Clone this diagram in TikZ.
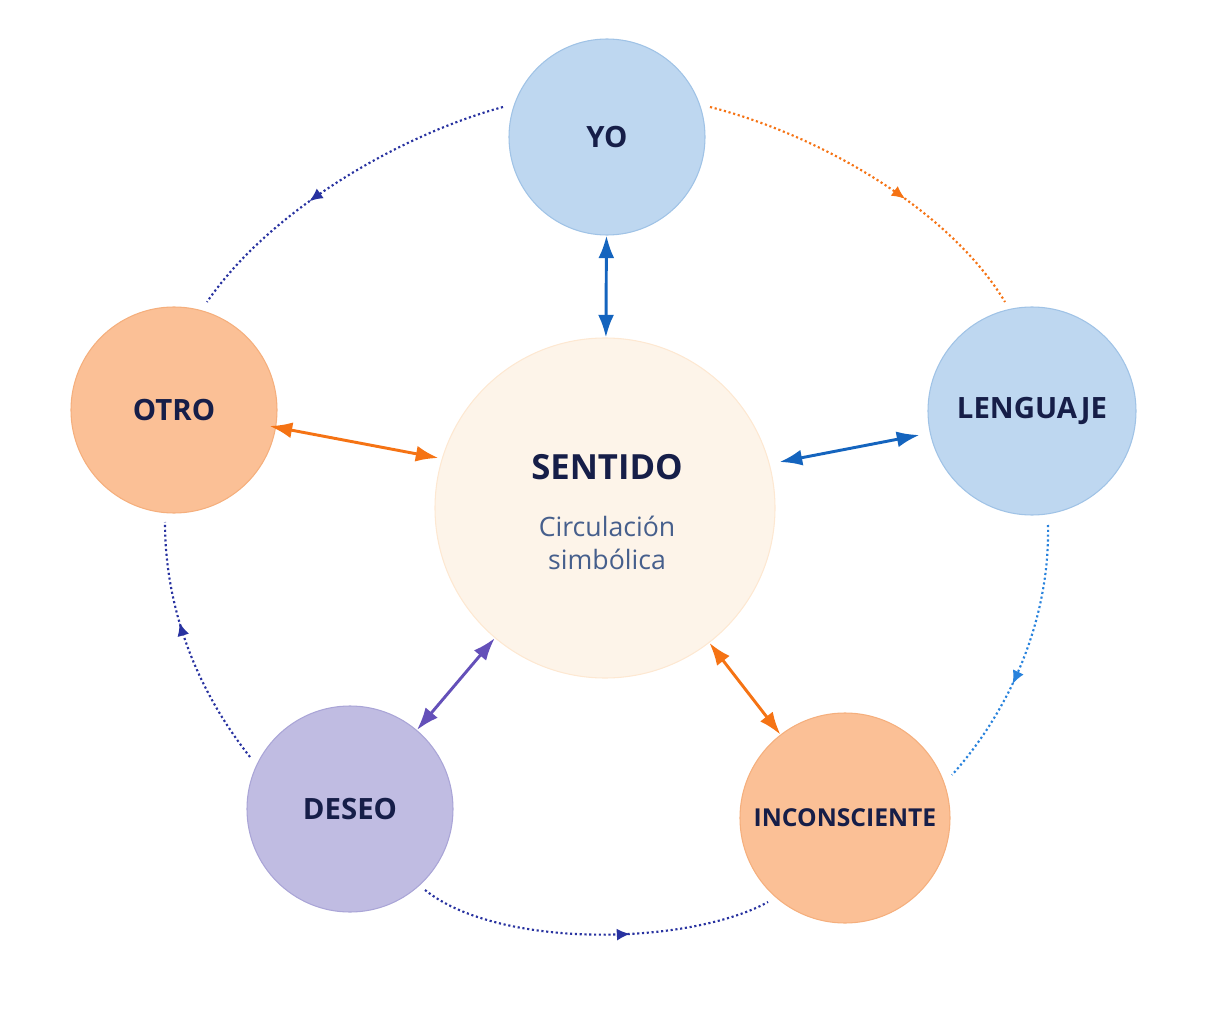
\documentclass[tikz,border=0pt]{standalone}
\usepackage{fontspec}
\setmainfont{Open Sans}
\usetikzlibrary{arrows.meta,decorations.markings}
\definecolor{navy}{RGB}{22,30,72}
\definecolor{bluefill}{RGB}{190,215,240}
\definecolor{bluedraw}{RGB}{160,195,230}
\definecolor{orangefill}{RGB}{251,192,150}
\definecolor{orangedraw}{RGB}{245,175,125}
\definecolor{purplefill}{RGB}{192,188,226}
\definecolor{purpledraw}{RGB}{170,165,215}
\definecolor{centerfill}{RGB}{253,244,233}
\definecolor{arrblue}{RGB}{20,100,190}
\definecolor{arrorange}{RGB}{245,115,20}
\definecolor{arrpurple}{RGB}{100,80,185}
\definecolor{dotblue}{RGB}{40,130,220}
\definecolor{dotnavy}{RGB}{40,50,160}
\definecolor{subtext}{RGB}{70,95,140}
\tikzset{every picture/.style={line width=0.75pt}}
\tikzset{
  circ/.style={circle, minimum size=#1, inner sep=0pt, line width=0.8pt, font=\bfseries\fontsize{22}{24}\selectfont, text=navy},
  link/.style={{Latex[length=17pt,width=12pt]}-{Latex[length=17pt,width=12pt]}, line width=2.2pt},
  cycle/.style={dotted, line width=1.6pt, draw=#1, postaction={decorate},
    decoration={markings, mark=at position 0.6 with {\arrow[#1]{Latex[length=10pt,width=9pt]}}}}
}

\begin{document}
\begin{tikzpicture}[x=0.75pt,y=0.75pt,yscale=-1,xscale=1]
\useasboundingbox (0,0) rectangle (1222,1024);

% circles
\node [circ=196pt*0.75, fill=bluefill, draw=bluedraw] (yo) at (607,137) {YO};
\node [circ=208pt*0.75, fill=bluefill, draw=bluedraw] (lenguaje) at (1032,411) {LENGUAJE};
\node [circ=206pt*0.75, fill=orangefill, draw=orangedraw] (otro) at (174,410) {OTRO};
\node [circ=206pt*0.75, fill=purplefill, draw=purpledraw] (deseo) at (350,809) {DESEO};
\node [circ=210pt*0.75, fill=orangefill, draw=orangedraw, font=\bfseries\fontsize{18.5}{20}\selectfont] (incons) at (845,818) {INCONSCIENTE};
\node [circ=340pt*0.75, fill=centerfill, draw=centerfill!90!orange] (sentido) at (605,508) {};
\node [font=\bfseries\fontsize{26}{28}\selectfont, text=navy] (sentlabel) at (607,467) {SENTIDO};
\node [font=\fontsize{20}{25}\selectfont, text=subtext, align=center] (sentsub) at (607,543) {Circulación\\simbólica};

% links to center
\path (otro.east) ++(-8,16) coordinate (o1) (sentido.west) ++(4,-50) coordinate (s1);
\path (lenguaje.west) ++(-8,24) coordinate (l1) (sentido.east) ++(4,-46) coordinate (s2);
\draw [link, arrblue] (yo) -- (sentido);
\draw [link, arrorange] (o1) -- (s1);
\draw [link, arrblue] (s2) -- (l1);
\draw [link, arrpurple] (deseo) -- (sentido);
\draw [link, arrorange] (sentido) -- (incons);

% outer cycle
\coordinate (c1) at (503,107);
\coordinate (c2) at (207,302);
\coordinate (c3) at (710,107);
\coordinate (c4) at (1005,302);
\coordinate (c5) at (1048,525);
\coordinate (c6) at (952,775);
\coordinate (c7) at (768,902);
\coordinate (c8) at (425,890);
\coordinate (c9) at (250,757);
\coordinate (c10) at (165,522);
\draw [cycle=dotnavy] (c1) .. controls (400,135) and (270,210) .. (c2);
\draw [cycle=arrorange] (c3) .. controls (820,135) and (950,210) .. (c4);
\draw [cycle=dotblue] (c5) .. controls (1050,620) and (1010,710) .. (c6);
\draw [cycle=dotnavy] (c8) .. controls (500,950) and (690,945) .. (c7);
\draw [cycle=dotnavy] (c9) .. controls (205,700) and (165,620) .. (c10);
\end{tikzpicture}
\end{document}
